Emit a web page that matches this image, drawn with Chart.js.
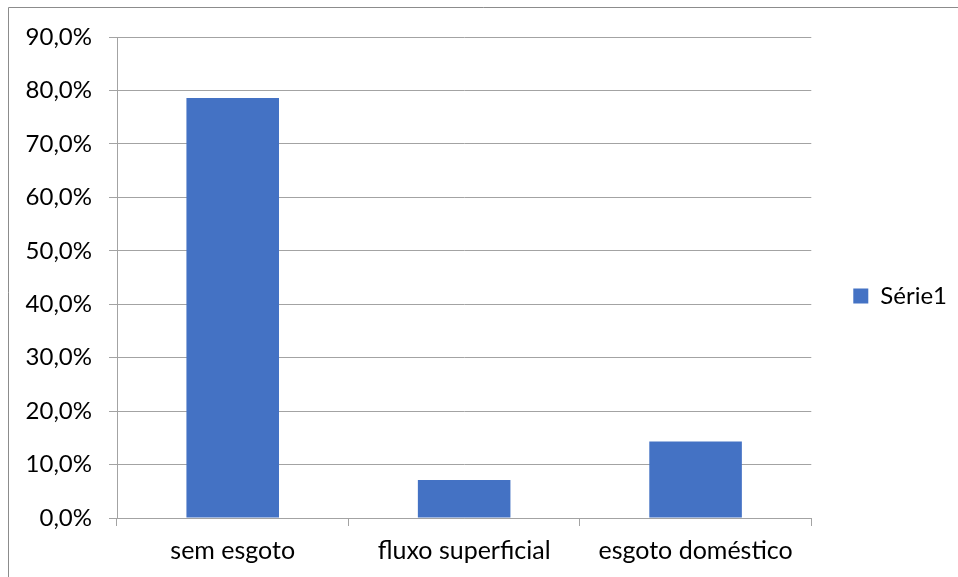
<!DOCTYPE html>
<html>
<head>
<meta charset="utf-8">
<script src="https://cdn.jsdelivr.net/npm/chart.js@4/dist/chart.umd.min.js"></script>
<style>
  html, body { margin: 0; padding: 0; background: #ffffff; }
  #wrap { width: 958px; height: 577px; position: relative; }
</style>
</head>
<body>
<div id="wrap"><canvas id="c" width="958" height="577"></canvas></div>
<script>
// Categories and values (percent)
const categories = ['sem esgoto', 'fluxo superficial', 'esgoto doméstico'];
const seriesName = 'Série1';
const seriesValues = [78.6, 7.1, 14.3];
const yTicks = [0, 10, 20, 30, 40, 50, 60, 70, 80, 90];

const FONT = "Lato, 'Open Sans', 'Liberation Sans', sans-serif";
const GRID = '#a3a3a3';

// White background and the outer frame line (left and top edges)
const framePlugin = {
  id: 'frame',
  beforeDraw(chart) {
    const ctx = chart.ctx;
    ctx.save();
    ctx.fillStyle = '#ffffff';
    ctx.fillRect(0, 0, chart.width, chart.height);
    ctx.strokeStyle = '#8c8c8c';
    ctx.lineWidth = 1;
    ctx.beginPath();
    ctx.moveTo(8.5, chart.height);
    ctx.lineTo(8.5, 7.5);
    ctx.lineTo(chart.width, 7.5);
    ctx.stroke();
    ctx.restore();
  }
};

// Leave a gap between the plot area and the legend
const legendGap = {
  id: 'legendGap',
  afterLayout(chart) {
    const lg = chart.legend;
    if (!lg) return;
    const dx = 32, dy = -11;
    lg.left += dx; lg.right += dx;
    lg.top += dy; lg.bottom += dy;
  }
};

new Chart(document.getElementById('c'), {
  type: 'bar',
  data: {
    labels: categories,
    datasets: [{
      label: seriesName,
      data: seriesValues,
      backgroundColor: '#4472c4',
      borderWidth: 0,
      barPercentage: 0.8,
      categoryPercentage: 0.5
    }]
  },
  options: {
    responsive: false,
    animation: false,
    devicePixelRatio: 1,
    layout: { padding: { top: 37, left: 0, right: 33, bottom: 0 } },
    plugins: {
      title: { display: false },
      tooltip: { enabled: false },
      legend: {
        position: 'right',
        align: 'center',
        labels: {
          boxWidth: 15,
          boxHeight: 15,
          padding: 10,
          color: '#000000',
          font: { family: FONT, size: 24 }
        }
      }
    },
    scales: {
      x: {
        afterFit(scale) { scale.height = 59; },
        grid: {
          display: true,
          drawOnChartArea: false,
          drawTicks: true,
          tickLength: 8,
          offset: true,
          color: GRID,
          lineWidth: 1
        },
        border: { display: true, color: GRID, width: 1 },
        ticks: {
          color: '#000000',
          padding: 10,
          maxRotation: 0,
          font: { family: FONT, size: 25 }
        }
      },
      y: {
        min: 0,
        max: 90,
        afterFit(scale) { scale.width = 117; },
        afterBuildTicks(scale) { scale.ticks = yTicks.map(v => ({ value: v })); },
        grid: {
          color: GRID,
          lineWidth: 1,
          drawTicks: true,
          tickLength: 8
        },
        border: { display: true, color: GRID, width: 1 },
        ticks: {
          color: '#000000',
          padding: 17,
          font: { family: FONT, size: 24 },
          callback: v => v.toFixed(1).replace('.', ',') + '%'
        }
      }
    }
  },
  plugins: [framePlugin, legendGap]
});
</script>
</body>
</html>
